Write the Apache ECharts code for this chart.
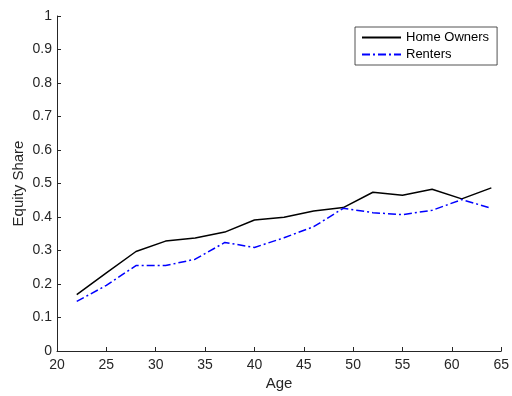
<!DOCTYPE html>
<html><head><meta charset="utf-8">
<script src="https://cdn.jsdelivr.net/npm/echarts@6/dist/echarts.min.js"></script>
<style>html,body{margin:0;padding:0;background:#fff}#c{width:512px;height:396px}</style>
</head><body><div id="c"></div>
<script>
const ages = [22, 25, 28, 31, 34, 37, 40, 43, 46, 49, 52, 55, 58, 61, 64];
const homeOwners = [0.168, 0.233, 0.297, 0.328, 0.337, 0.355, 0.391, 0.399, 0.418, 0.428, 0.474, 0.465, 0.483, 0.454, 0.487];
const renters = [0.148, 0.196, 0.255, 0.255, 0.274, 0.324, 0.309, 0.338, 0.371, 0.426, 0.413, 0.407, 0.420, 0.452, 0.426];
const xTicks = {min: 20, max: 65, step: 5};
const yTicks = {min: 0, max: 1, step: 0.1};

const font = 'Liberation Sans, Arial, Helvetica, sans-serif';
const axisCol = '#262626';
const chart = echarts.init(document.getElementById('c'), null, {renderer: 'canvas'});
chart.setOption({
  animation: false,
  backgroundColor: '#fff',
  grid: {left: 57, right: 7.5, top: 16, bottom: 44},
  legend: {
    orient: 'vertical', left: 355, top: 27,
    borderColor: axisCol, borderWidth: 0.8,
    padding: [4, 8, 4, 6], itemGap: 4, itemWidth: 39, itemHeight: 12,
    itemStyle: {opacity: 0},
    textStyle: {fontFamily: font, fontSize: 13, color: '#000'},
    data: ['Home Owners', 'Renters']
  },
  xAxis: {
    type: 'value', min: xTicks.min, max: xTicks.max, interval: xTicks.step,
    name: 'Age', nameLocation: 'middle', nameGap: 25, nameMoveOverlap: false,
    nameTextStyle: {fontFamily: font, fontSize: 15, color: axisCol},
    axisLine: {lineStyle: {color: axisCol, width: 1}},
    axisTick: {inside: true, length: 4, lineStyle: {color: axisCol}},
    axisLabel: {fontFamily: font, fontSize: 14, color: axisCol, margin: 7},
    splitLine: {show: false}
  },
  yAxis: {
    type: 'value', min: yTicks.min, max: yTicks.max, interval: yTicks.step,
    name: 'Equity Share', nameLocation: 'middle', nameGap: 31, nameRotate: 90,
    nameMoveOverlap: false,
    nameTextStyle: {fontFamily: font, fontSize: 15, color: axisCol},
    axisLine: {show: true, lineStyle: {color: axisCol, width: 1}},
    axisTick: {show: true, inside: true, length: 4, lineStyle: {color: axisCol}},
    axisLabel: {fontFamily: font, fontSize: 14, color: axisCol, margin: 5,
      formatter: v => String(Math.round(v * 10) / 10)},
    splitLine: {show: false}
  },
  series: [
    {name: 'Home Owners', type: 'line', symbol: 'none', showSymbol: false,
     data: ages.map((a, i) => [a, homeOwners[i]]),
     itemStyle: {color: '#000'},
     lineStyle: {color: '#000', width: 1.5}},
    {name: 'Renters', type: 'line', symbol: 'none', showSymbol: false,
     data: ages.map((a, i) => [a, renters[i]]),
     itemStyle: {color: '#0000ff'},
     lineStyle: {color: '#0000ff', width: 1.5, type: [8, 3, 2, 3]}}
  ]
});
</script></body></html>
